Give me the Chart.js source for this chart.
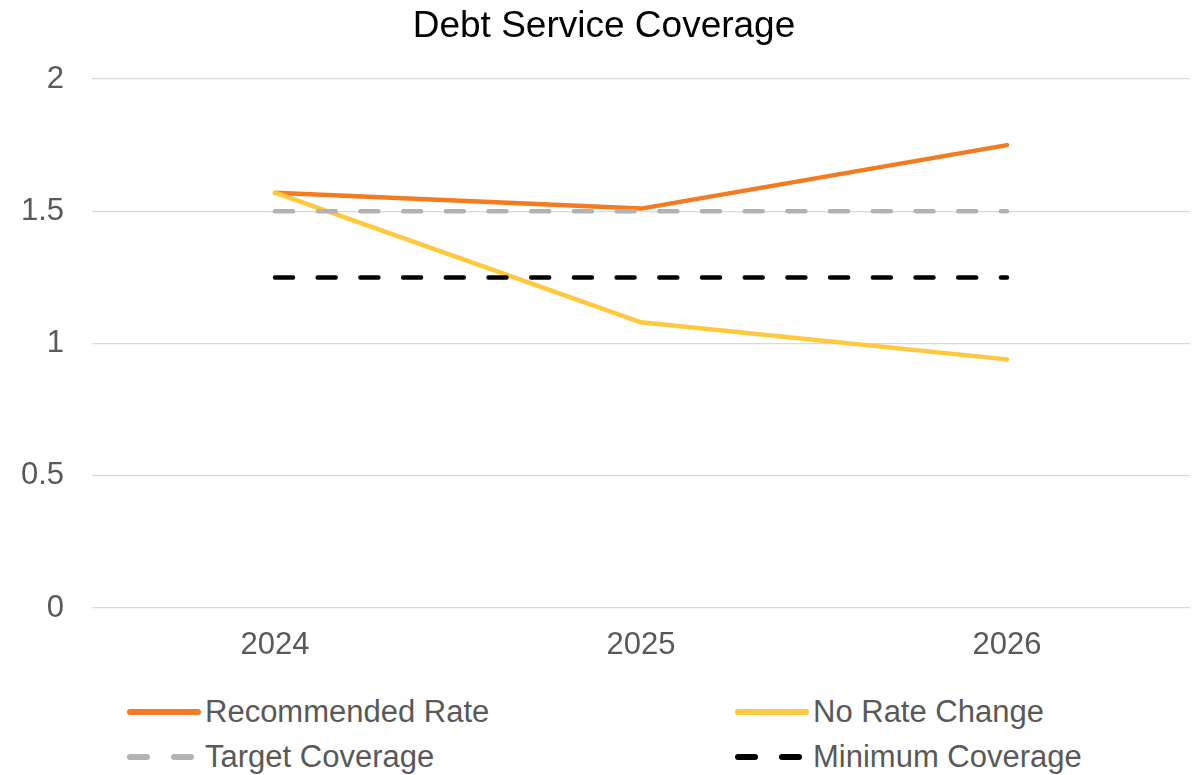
<!DOCTYPE html>
<html>
<head>
<meta charset="utf-8">
<script src="https://cdn.jsdelivr.net/npm/chart.js@4/dist/chart.umd.min.js"></script>
<style>
  body { margin: 0; background: #fff; font-family: "Liberation Sans", Arial, sans-serif; }
  #wrap { position: relative; width: 1193px; height: 775px; }
  #box { position: absolute; left: 0; top: 0; width: 1193px; height: 682px; }
  .leg { position: absolute; display: flex; align-items: center; font-size: 31px; color: #595959; white-space: nowrap; height: 40px; }
  .leg svg { margin-right: 4px; }
</style>
</head>
<body>
<div id="wrap">
  <div id="box"><canvas id="myChart"></canvas></div>
  <div id="legend"></div>
</div>
<script>
// data
const years = ['2024', '2025', '2026'];
const recommendedRate = [1.57, 1.51, 1.75];
const noRateChange = [1.57, 1.08, 0.94];
const targetCoverage = [1.5, 1.5, 1.5];
const minimumCoverage = [1.25, 1.25, 1.25];
const seriesNames = ['Recommended Rate', 'No Rate Change', 'Target Coverage', 'Minimum Coverage'];
const seriesColors = ['#F47B20', '#FFC83D', '#B2B2B2', '#000000'];

const ctx = document.getElementById('myChart').getContext('2d');

const dash = [18, 24.7];

const myChart = new Chart(ctx, {
  type: 'line',
  data: {
    labels: years,
    datasets: [{
      label: seriesNames[0],
      data: recommendedRate,
      borderColor: seriesColors[0],
      borderWidth: 4.5,
      order: 4
    }, {
      label: seriesNames[1],
      data: noRateChange,
      borderColor: seriesColors[1],
      borderWidth: 4.5,
      order: 3
    }, {
      label: seriesNames[2],
      data: targetCoverage,
      borderColor: seriesColors[2],
      borderWidth: 4.5,
      borderDash: dash,
      borderCapStyle: 'round',
      order: 2
    }, {
      label: seriesNames[3],
      data: minimumCoverage,
      borderColor: seriesColors[3],
      borderWidth: 4.5,
      borderDash: dash,
      borderCapStyle: 'round',
      order: 1
    }]
  },
  options: {
    responsive: true,
    maintainAspectRatio: false,
    animation: false,
    layout: { padding: { left: 18, right: 3, top: 0, bottom: 0 } },
    elements: {
      point: { radius: 0, hoverRadius: 0 },
      line: { tension: 0, borderCapStyle: 'round', borderJoinStyle: 'round' }
    },
    plugins: {
      legend: { display: false },
      tooltip: { enabled: false },
      title: {
        display: true,
        text: 'Debt Service Coverage',
        color: '#000000',
        font: { family: '"Liberation Sans", Arial, sans-serif', size: 37, weight: 'normal' },
        padding: { top: 5, bottom: 29.6 }
      }
    },
    scales: {
      x: {
        offset: true,
        grid: { display: false, drawTicks: false },
        border: { display: false },
        ticks: {
          color: '#595959',
          padding: 19,
          font: { family: '"Liberation Sans", Arial, sans-serif', size: 31 }
        },
        afterFit: (scale) => { scale.height = 74; }
      },
      y: {
        min: 0,
        max: 2,
        grid: { color: '#D9D9D9', lineWidth: 1.3, drawTicks: false },
        border: { display: false },
        ticks: {
          stepSize: 0.5,
          color: '#595959',
          padding: 28,
          font: { family: '"Liberation Sans", Arial, sans-serif', size: 31 },
          callback: (v) => String(v)
        },
        afterFit: (scale) => { scale.width = 74; }
      }
    }
  }
});

// two-column legend below the chart
const legendSpots = [[127, 692], [735, 692], [127, 737], [735, 737]];
const legend = document.getElementById('legend');
seriesNames.forEach((name, i) => {
  const item = document.createElement('div');
  item.className = 'leg';
  item.style.left = legendSpots[i][0] + 'px';
  item.style.top = legendSpots[i][1] + 'px';
  const dashed = i >= 2 ? ' stroke-dasharray="17 27"' : '';
  item.innerHTML = '<svg width="74" height="10"><line x1="3" y1="5" x2="71" y2="5" stroke="' +
    seriesColors[i] + '" stroke-width="6" stroke-linecap="round"' + dashed + '/></svg>' + name;
  legend.appendChild(item);
});
</script>
</body>
</html>
